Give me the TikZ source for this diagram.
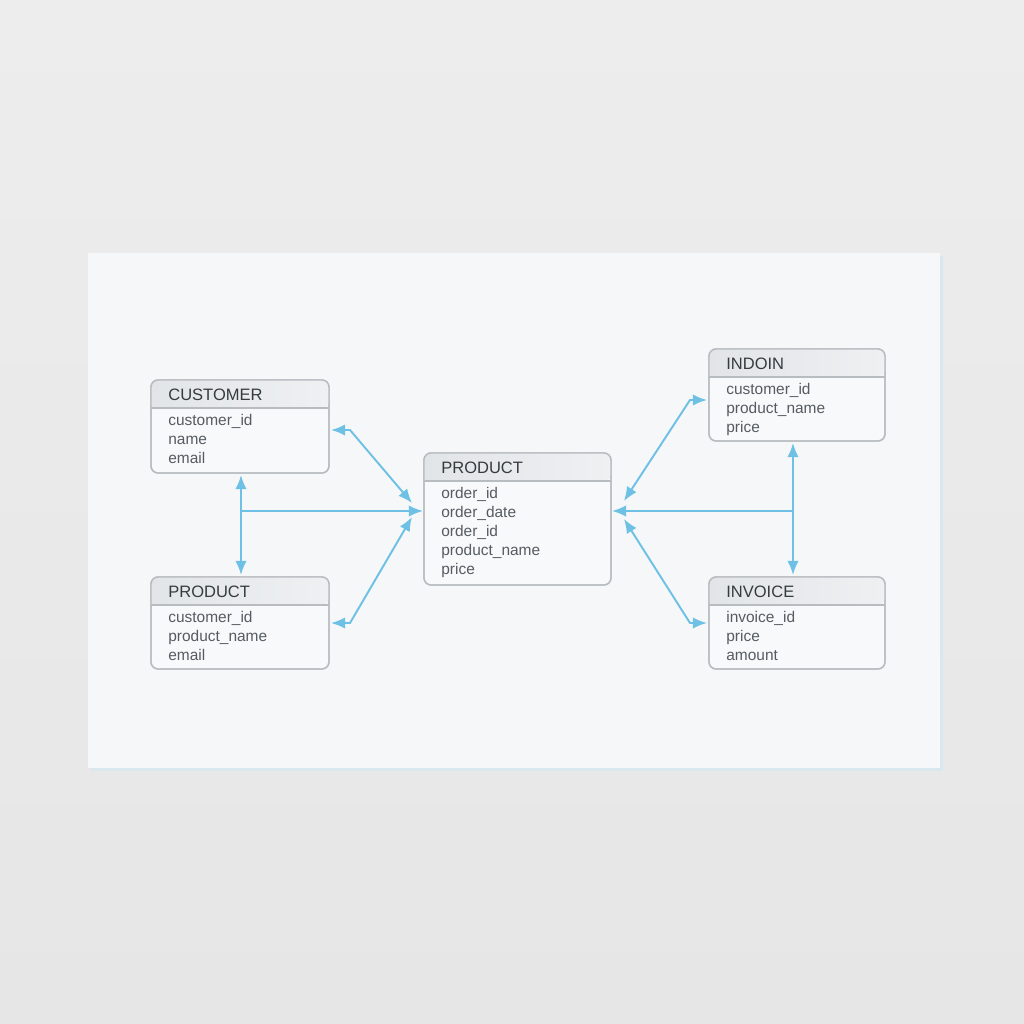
\documentclass[tikz,border=0pt]{standalone}
\usepackage{fontspec}
\setmainfont{Liberation Sans}
\usetikzlibrary{arrows.meta,positioning,calc}
\definecolor{wallgray}{HTML}{EDEDED}
\definecolor{wallgrayb}{HTML}{E6E6E6}
\definecolor{panelfill}{HTML}{F5F7F8}
\definecolor{paneledge}{HTML}{D9E7EE}
\definecolor{tblline}{HTML}{B7BCC1}
\definecolor{tblfill}{HTML}{F8F9FA}
\definecolor{hdrfill}{HTML}{E2E5E8}
\definecolor{ttlcol}{HTML}{363B41}
\definecolor{rowcol}{HTML}{565C62}
\definecolor{linkblue}{HTML}{6EC1E5}
\tikzset{
    %standard arrow tip
    >={Latex[length=8pt,width=6.5pt]},
    %table boxes
    tbl/.style={
           draw=tblline,
           fill=tblfill,
           line width=0.8pt,
           rounded corners=4pt,
           inner sep=0pt,
           outer sep=0pt},
    ttl/.style={
           font=\fontsize{9.4}{11}\selectfont,
           text=ttlcol,
           inner sep=0pt},
    rowtxt/.style={
           font=\fontsize{8.8}{10.8}\selectfont,
           text=rowcol,
           align=left,
           inner sep=0pt},
    % connector style
    link/.style={
           draw=linkblue,
           line width=1.1pt,
           line join=round}
}
% one table: name, north west corner, width, height, title, rows
\newcommand{\erTable}[6]{%
  \node[tbl, anchor=north west, minimum width=#3, minimum height=#4] (#1) at (#2) {};
  \shade[left color=hdrfill, right color=hdrfill!45!tblfill]
     ($(#1.north west)+(0,28)$) [rounded corners=4pt] |- (#1.north)
     -| ($(#1.north east)+(0,28)$) [sharp corners] -- cycle;
  \draw[tblline, line width=0.8pt] ($(#1.north west)+(0,28)$) -- ($(#1.north east)+(0,28)$);
  \draw[tblline, line width=0.8pt, rounded corners=4pt] (#1.south west) rectangle (#1.north east);
  \node[ttl, anchor=base west] (#1-t) at ($(#1.north west)+(17,20)$) {#5};
  \node[rowtxt, anchor=north west] (#1-r) at ($(#1.north west)+(17,34)$) {#6};
}

\begin{document}
\begin{tikzpicture}[x=0.02cm,y=-0.02cm]
\useasboundingbox (0,0) rectangle (1024,1024);
% wall and board
\shade[top color=wallgray, bottom color=wallgrayb] (0,0) rectangle (1024,1024);
\fill[paneledge] (91,256) rectangle (943,771);
\fill[panelfill] (88,253) rectangle (940,768);

% tables
\erTable{cust}{151,380}{3.56cm}{1.86cm}{CUSTOMER}{customer\_id\\name\\email}
\erTable{prodL}{151,577}{3.56cm}{1.84cm}{PRODUCT}{customer\_id\\product\_name\\email}
\erTable{prodC}{424,453}{3.74cm}{2.64cm}{PRODUCT}{order\_id\\order\_date\\order\_id\\product\_name\\price}
\erTable{ind}{709,349}{3.52cm}{1.84cm}{INDOIN}{customer\_id\\product\_name\\price}
\erTable{inv}{709,577}{3.52cm}{1.84cm}{INVOICE}{invoice\_id\\price\\amount}

% junctions and bends
\coordinate (jl) at (241,511);
\coordinate (jr) at (793,511);
\coordinate (bl1) at (350,430);
\coordinate (tl1) at (412,503);
\coordinate (bl2) at (350,623);
\coordinate (tl2) at (412,517);
\coordinate (br1) at (690,400);
\coordinate (tr1) at (624,501);
\coordinate (br2) at (690,623);
\coordinate (tr2) at (624,519);

% left connectors
\draw[link,<->,shorten <=1.2pt,shorten >=1.2pt] (cust.south -| jl) -- (prodL.north -| jl);
\draw[link,->,shorten >=0.6pt] (jl) -- (prodC.west |- jl);
\draw[link,<->,shorten <=1.2pt] (cust.east |- bl1) -- (bl1) -- (tl1);
\draw[link,<->,shorten <=1.2pt] (prodL.east |- bl2) -- (bl2) -- (tl2);
% right connectors
\draw[link,<->,shorten <=1.2pt,shorten >=1.2pt] (ind.south -| jr) -- (inv.north -| jr);
\draw[link,->,shorten >=0.6pt] (jr) -- (prodC.east |- jr);
\draw[link,<->,shorten >=1.2pt] (tr1) -- (br1) -- (ind.west |- br1);
\draw[link,<->,shorten >=1.2pt] (tr2) -- (br2) -- (inv.west |- br2);
\end{tikzpicture}
\end{document}
